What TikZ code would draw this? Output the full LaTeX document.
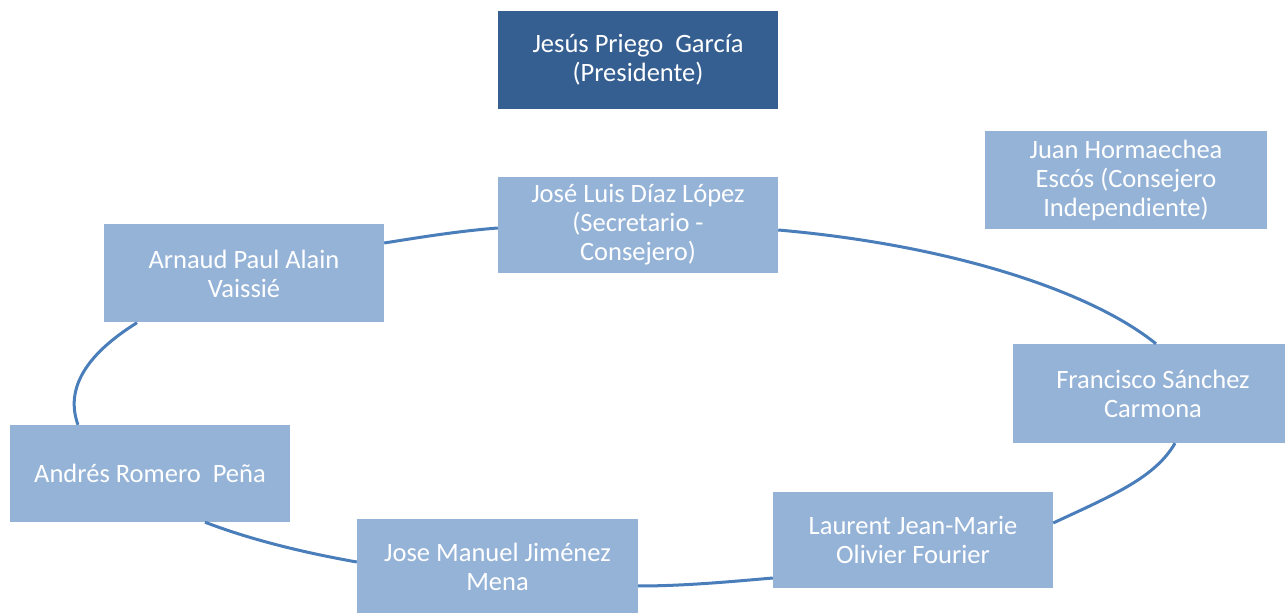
\documentclass[tikz,border=0pt]{standalone}
\usepackage{fontspec}
\setmainfont{Carlito}
\usepackage{tikz}

\definecolor{presblue}{HTML}{365F91}
\definecolor{boxblue}{HTML}{95B3D7}
\definecolor{ringblue}{HTML}{4A7EBB}

\begin{document}
\begin{tikzpicture}[x=1pt, y=1pt,
    member/.style={rectangle, fill=boxblue, text=white, minimum width=280pt, minimum height=97pt,
        align=center, inner sep=0pt, font=\fontsize{26.5}{29}\selectfont},
    ring/.style={ringblue, line width=3pt}]
    \useasboundingbox (0,0) rectangle (1285,613);

    % Define members
    \node[member, fill=presblue, minimum height=98pt] (pres) at (638,553) {Jesús Priego~~García\\(Presidente)};
    \node[member, minimum height=96pt] (sec) at (638,388) {José Luis Díaz López\\(Secretario -\\Consejero)};
    \node[member, minimum width=282pt, minimum height=98pt] (hor) at (1126,433) {Juan Hormaechea\\Escós (Consejero\\Independiente)};
    \node[member, minimum height=98pt] (vai) at (244,339.5) {Arnaud Paul Alain\\Vaissié};
    \node[member, minimum height=99pt] (san) at (1153,219.5) {Francisco Sánchez\\Carmona};
    \node[member] (and) at (150,139.5) {Andrés Romero~~Peña};
    \node[member, minimum width=281pt, minimum height=96pt] (jmj) at (497.5,46) {Jose Manuel Jiménez\\Mena};
    \node[member, minimum height=96pt] (lau) at (913,73) {Laurent Jean-Marie\\Olivier Fourier};

    % Draw ring between members
    \draw[ring] ([yshift=-5pt]sec.east) to[out=-5, in=141, out distance=171pt, in distance=85pt] ([xshift=3pt]san.north);
    \draw[ring] ([xshift=22pt]san.south) to[out=-120, in=25, out distance=40pt, in distance=65pt] ([yshift=17pt]lau.east);
    \draw[ring] ([yshift=-38pt]lau.west) to[out=185, in=0, out distance=44pt, in distance=45pt] ([yshift=-19pt]jmj.east);
    \draw[ring] ([yshift=5pt]jmj.west) to[out=170, in=-21, out distance=58pt, in distance=46pt] ([xshift=55pt]and.south);
    \draw[ring] ([xshift=-72pt]and.north) to[out=110, in=212, out distance=38pt, in distance=61pt] ([xshift=-107pt]vai.south);
    \draw[ring] ([yshift=30.5pt]vai.east) to[out=9, in=184.5, out distance=37pt, in distance=40pt] ([yshift=-3pt]sec.west);
\end{tikzpicture}
\end{document}
